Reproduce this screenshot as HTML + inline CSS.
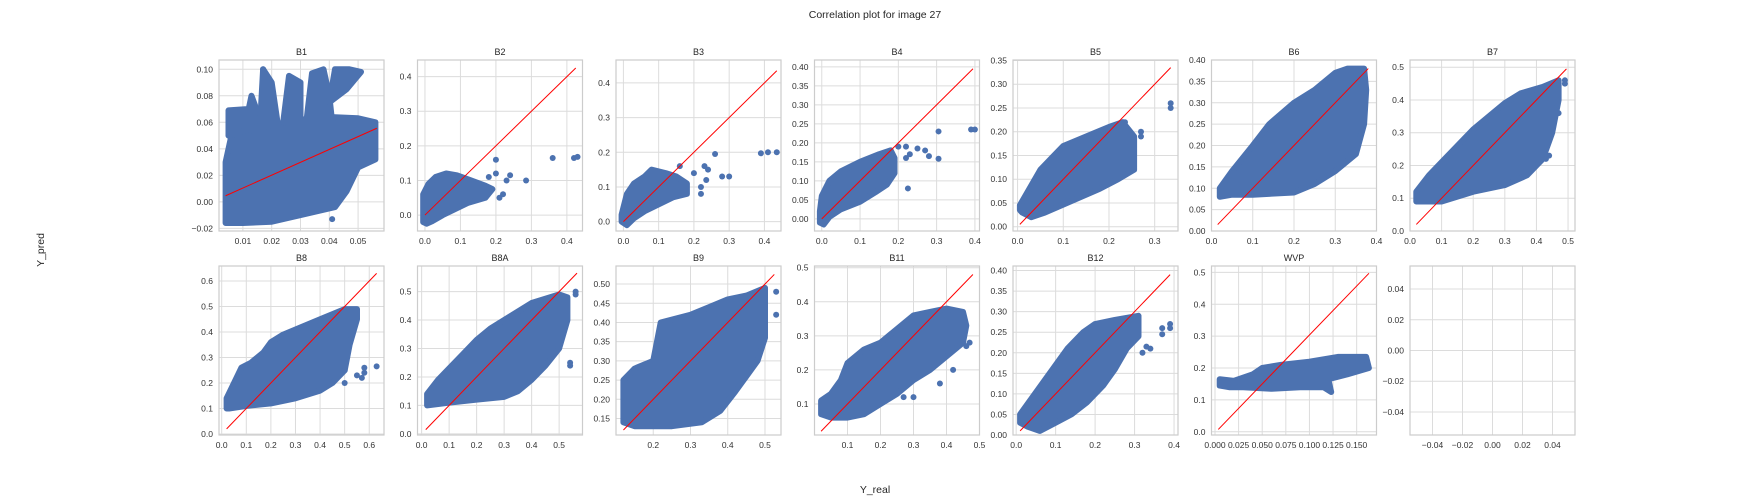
<!DOCTYPE html>
<html><head><meta charset="utf-8"><style>
html,body{margin:0;padding:0;background:#fff;}
svg{display:block;font-family:"Liberation Sans","DejaVu Sans",sans-serif;}
</style></head><body>
<svg id="fig" width="1750" height="500" viewBox="0 0 1750 500" xmlns="http://www.w3.org/2000/svg">
<rect width="1750" height="500" fill="#fff"/>
<text x="875" y="18" text-anchor="middle" font-size="10.5" fill="#262626">Correlation plot for image 27</text>
<text x="0" y="0" transform="translate(44,250) rotate(-90)" text-anchor="middle" font-size="10.5" fill="#262626">Y_pred</text>
<text x="875" y="493" text-anchor="middle" font-size="10.5" fill="#262626">Y_real</text>
</svg>
<script>
const panelNames = ["B1","B2","B3","B4","B5","B6","B7","B8","B8A","B9","B11","B12","WVP",""];
const xLims = [[0.0017,0.059],[-0.021,0.444],[-0.021,0.447],[-0.019,0.412],[-0.01,0.351],[0,0.4],[0,0.522],
               [-0.011,0.66],[-0.015,0.585],[0.1,0.543],[0,0.5],[-0.008,0.41],[-0.0037,0.171],[-0.055,0.055]];
const yLims = [[-0.022,0.107],[-0.046,0.448],[-0.027,0.466],[-0.032,0.418],[-0.009,0.351],[0,0.4],[0,0.522],
               [-0.004,0.659],[-0.004,0.59],[0.107,0.547],[0.009,0.505],[0,0.411],[-0.01,0.52],[-0.055,0.055]];
const xTicks = [[0.01,0.02,0.03,0.04,0.05],[0,0.1,0.2,0.3,0.4],[0,0.1,0.2,0.3,0.4],[0,0.1,0.2,0.3,0.4],[0,0.1,0.2,0.3],[0,0.1,0.2,0.3,0.4],[0,0.1,0.2,0.3,0.4,0.5],
                [0,0.1,0.2,0.3,0.4,0.5,0.6],[0,0.1,0.2,0.3,0.4,0.5],[0.2,0.3,0.4,0.5],[0.1,0.2,0.3,0.4,0.5],[0,0.1,0.2,0.3,0.4],[0,0.025,0.05,0.075,0.1,0.125,0.15],[-0.04,-0.02,0,0.02,0.04]];
const xTickDigits = [2,1,1,1,1,1,1,1,1,1,1,1,3,2];
const yTicks = [[-0.02,0,0.02,0.04,0.06,0.08,0.1],[0,0.1,0.2,0.3,0.4],[0,0.1,0.2,0.3,0.4],[0,0.05,0.1,0.15,0.2,0.25,0.3,0.35,0.4],[0,0.05,0.1,0.15,0.2,0.25,0.3,0.35],[0,0.05,0.1,0.15,0.2,0.25,0.3,0.35,0.4],[0,0.1,0.2,0.3,0.4,0.5],
                [0,0.1,0.2,0.3,0.4,0.5,0.6],[0,0.1,0.2,0.3,0.4,0.5],[0.15,0.2,0.25,0.3,0.35,0.4,0.45,0.5],[0.1,0.2,0.3,0.4,0.5],[0,0.05,0.1,0.15,0.2,0.25,0.3,0.35,0.4],[0,0.1,0.2,0.3,0.4,0.5],[-0.04,-0.02,0,0.02,0.04]];
const yTickDigits = [2,1,1,2,2,2,1,1,1,2,1,2,1,2];
const lineX = [[0.004,0.0565],[0,0.425],[0,0.435],[0,0.395],[0.005,0.335],[0.015,0.38],[0.02,0.495],[0.02,0.63],[0.015,0.565],[0.12,0.525],[0.02,0.48],[0.01,0.39],[0.0035,0.163],null];
const lineY = [[0.0046,0.0555],[0,0.425],[0,0.435],[0,0.395],[0.005,0.335],[0.015,0.38],[0.02,0.495],[0.02,0.63],[0.015,0.565],[0.12,0.525],[0.02,0.48],[0.01,0.39],[0.0075,0.497],null];
const clouds = [
 [[[0.004,-0.016],[0.004,0.03],[0.006,0.05],[0.02,0.058],[0.03,0.062],[0.04,0.064],[0.05,0.063],[0.056,0.06],[0.056,0.032],[0.05,0.026],[0.046,0.008],[0.042,-0.004],[0.03,-0.01],[0.02,-0.015],[0.01,-0.016]],
  [[0.005,0.05],[0.005,0.069],[0.012,0.07],[0.013,0.08],[0.015,0.068],[0.02,0.06]],
  [[0.016,0.06],[0.017,0.1],[0.02,0.09],[0.022,0.06]],
  [[0.024,0.06],[0.026,0.095],[0.03,0.09],[0.03,0.06]],
  [[0.032,0.06],[0.034,0.097],[0.038,0.1],[0.04,0.08],[0.041,0.06]],
  [[0.04,0.075],[0.042,0.1],[0.047,0.1],[0.051,0.098],[0.046,0.085]]],
 [[[-0.005,-0.02],[-0.005,0.06],[0.01,0.09],[0.03,0.11],[0.06,0.12],[0.09,0.115],[0.13,0.1],[0.17,0.085],[0.19,0.075],[0.17,0.05],[0.12,0.035],[0.08,0.015],[0.05,0.0],[0.02,-0.018],[0.005,-0.025]]],
 [[[-0.005,0.0],[-0.005,0.02],[0.01,0.08],[0.03,0.11],[0.06,0.13],[0.08,0.15],[0.12,0.14],[0.15,0.13],[0.18,0.11],[0.18,0.08],[0.14,0.07],[0.1,0.05],[0.06,0.03],[0.03,0.01],[0.01,-0.01]]],
 [[[-0.005,-0.01],[-0.005,0.02],[0.0,0.06],[0.02,0.1],[0.05,0.125],[0.1,0.15],[0.15,0.17],[0.18,0.18],[0.19,0.16],[0.19,0.12],[0.17,0.09],[0.14,0.07],[0.1,0.045],[0.05,0.025],[0.02,0.005],[0.005,-0.015]]],
 [[[0.005,0.035],[0.005,0.045],[0.02,0.07],[0.05,0.12],[0.08,0.15],[0.1,0.17],[0.15,0.19],[0.2,0.21],[0.23,0.22],[0.255,0.19],[0.255,0.12],[0.22,0.1],[0.18,0.08],[0.12,0.055],[0.06,0.03],[0.03,0.02],[0.01,0.03]]],
 [[[0.02,0.08],[0.02,0.1],[0.05,0.14],[0.1,0.2],[0.14,0.25],[0.2,0.3],[0.25,0.33],[0.3,0.37],[0.33,0.38],[0.37,0.38],[0.375,0.33],[0.37,0.25],[0.35,0.18],[0.3,0.14],[0.25,0.11],[0.2,0.09],[0.1,0.085],[0.05,0.085]]],
 [[[0.02,0.09],[0.02,0.12],[0.06,0.17],[0.1,0.21],[0.15,0.26],[0.2,0.31],[0.25,0.35],[0.3,0.39],[0.35,0.42],[0.42,0.44],[0.47,0.46],[0.47,0.4],[0.45,0.3],[0.42,0.22],[0.37,0.17],[0.3,0.14],[0.2,0.12],[0.1,0.09],[0.03,0.09]]],
 [[[0.02,0.1],[0.02,0.14],[0.05,0.2],[0.08,0.26],[0.12,0.28],[0.17,0.32],[0.2,0.36],[0.25,0.39],[0.3,0.41],[0.4,0.45],[0.5,0.49],[0.55,0.49],[0.55,0.45],[0.52,0.35],[0.5,0.25],[0.45,0.2],[0.4,0.17],[0.3,0.14],[0.2,0.12],[0.1,0.11],[0.03,0.1]]],
 [[[0.02,0.1],[0.02,0.14],[0.06,0.19],[0.1,0.23],[0.15,0.28],[0.2,0.33],[0.25,0.37],[0.3,0.4],[0.4,0.46],[0.5,0.49],[0.53,0.48],[0.53,0.4],[0.5,0.3],[0.45,0.24],[0.4,0.19],[0.35,0.15],[0.3,0.13],[0.2,0.12],[0.1,0.11]]],
 [[[0.12,0.14],[0.12,0.25],[0.15,0.28],[0.2,0.3],[0.22,0.4],[0.3,0.42],[0.35,0.44],[0.4,0.46],[0.45,0.47],[0.5,0.49],[0.5,0.36],[0.48,0.3],[0.45,0.26],[0.42,0.22],[0.38,0.17],[0.33,0.14],[0.25,0.13],[0.15,0.13]]],
 [[[0.02,0.07],[0.02,0.11],[0.05,0.13],[0.08,0.17],[0.1,0.22],[0.15,0.26],[0.2,0.28],[0.25,0.32],[0.3,0.36],[0.35,0.37],[0.4,0.38],[0.45,0.37],[0.46,0.33],[0.45,0.28],[0.4,0.24],[0.35,0.2],[0.3,0.17],[0.25,0.13],[0.2,0.1],[0.15,0.07],[0.1,0.06],[0.05,0.06]]],
 [[[0.01,0.03],[0.01,0.05],[0.04,0.09],[0.07,0.13],[0.1,0.17],[0.13,0.21],[0.17,0.25],[0.2,0.27],[0.25,0.28],[0.31,0.29],[0.31,0.24],[0.28,0.21],[0.25,0.16],[0.22,0.12],[0.18,0.08],[0.14,0.05],[0.1,0.03],[0.06,0.01],[0.03,0.02]]],
 [[[0.005,0.145],[0.005,0.165],[0.02,0.16],[0.04,0.18],[0.05,0.2],[0.07,0.21],[0.1,0.22],[0.13,0.235],[0.16,0.235],[0.163,0.2],[0.14,0.18],[0.12,0.165],[0.123,0.125],[0.115,0.14],[0.09,0.14],[0.06,0.135],[0.03,0.14],[0.015,0.14]]],
 []
];
const outliers = [
 [[0.041,-0.013],[0.017,0.1]],
 [[0.2,0.16],[0.22,0.06],[0.21,0.05],[0.23,0.1],[0.24,0.115],[0.285,0.1],[0.36,0.165],[0.42,0.165],[0.43,0.168],[0.18,0.11],[0.2,0.12]],
 [[0.16,0.16],[0.2,0.14],[0.22,0.08],[0.23,0.16],[0.24,0.15],[0.26,0.195],[0.28,0.13],[0.3,0.13],[0.39,0.197],[0.41,0.2],[0.435,0.2],[0.22,0.1],[0.235,0.12]],
 [[0.2,0.19],[0.22,0.16],[0.225,0.08],[0.23,0.17],[0.25,0.185],[0.27,0.18],[0.28,0.165],[0.305,0.23],[0.305,0.158],[0.39,0.235],[0.4,0.235],[0.22,0.19]],
 [[0.27,0.2],[0.27,0.19],[0.335,0.25],[0.335,0.26],[0.235,0.22]],
 [],
 [[0.49,0.46],[0.49,0.45],[0.47,0.36],[0.44,0.23],[0.43,0.22]],
 [[0.63,0.265],[0.58,0.26],[0.57,0.22],[0.5,0.25],[0.5,0.2],[0.55,0.23],[0.58,0.24]],
 [[0.56,0.49],[0.56,0.5],[0.54,0.24],[0.54,0.25]],
 [[0.53,0.48],[0.53,0.42],[0.5,0.365]],
 [[0.47,0.28],[0.46,0.27],[0.42,0.2],[0.38,0.16],[0.27,0.12],[0.3,0.12]],
 [[0.37,0.26],[0.37,0.245],[0.39,0.26],[0.39,0.27],[0.34,0.21],[0.33,0.215],[0.32,0.2]],
 [],
 []
];

const NS = "http://www.w3.org/2000/svg";
const fig = document.getElementById("fig");
const colLeft = [219,417.5,616,814.5,1013,1211.5,1410];
const rowTop = [60,266], rowBot = [231,435], PW = 165;
function mk(tag, attrs, parent){const e=document.createElementNS(NS,tag);for(const k in attrs)e.setAttribute(k,attrs[k]);parent.appendChild(e);return e;}
function fmt(v,d){let s=v.toFixed(d);if(v<0)s="\u2212"+s.slice(1);return s;}

panelNames.forEach((name,i)=>{
  const r=Math.floor(i/7), c=i%7;
  const L=colLeft[c], T=rowTop[r], B=rowBot[r], R=L+PW;
  const xs=v=>L+(v-xLims[i][0])/(xLims[i][1]-xLims[i][0])*PW;
  const ys=v=>B-(v-yLims[i][0])/(yLims[i][1]-yLims[i][0])*(B-T);
  const g=mk("g",{},fig);
  
  
  const cid="clip"+i;
  const cp=mk("clipPath",{id:cid},g); mk("rect",{x:L,y:T,width:PW,height:B-T},cp);
  xTicks[i].forEach(v=>{
    const x=xs(v);
    const gl=mk("line",{x1:x,x2:x,y1:T,y2:B,stroke:"#dcdcdc","stroke-width":1},g);
    
    
    const t=mk("text",{x:x,y:B+13,"text-anchor":"middle","font-size":"8.5",fill:"#333"},g);
    t.textContent=fmt(v,xTickDigits[i]);
    
    
  });
  yTicks[i].forEach(v=>{
    const y=ys(v);
    const gl=mk("line",{x1:L,x2:R,y1:y,y2:y,stroke:"#dcdcdc","stroke-width":1},g);
    
    
    const t=mk("text",{x:L-6,y:y+3,"text-anchor":"end","font-size":"8.5",fill:"#333"},g);
    t.textContent=fmt(v,yTickDigits[i]);
    
    
  });
  const data=mk("g",{"clip-path":"url(#"+cid+")"},g);
  clouds[i].forEach(poly=>{
    const p=mk("polygon",{points:poly.map(q=>xs(q[0]).toFixed(1)+","+ys(q[1]).toFixed(1)).join(" "),fill:"#4c72b0",stroke:"#4c72b0","stroke-width":6,"stroke-linejoin":"round"},data);
    
    
  });
  outliers[i].forEach(q=>{
    const ci=mk("circle",{cx:xs(q[0]),cy:ys(q[1]),r:3,fill:"#4c72b0"},data);
    
    
  });
  if(lineX[i]){
    const ln=mk("line",{x1:xs(lineX[i][0]),y1:ys(lineY[i][0]),x2:xs(lineX[i][1]),y2:ys(lineY[i][1]),stroke:"#ff0000","stroke-width":1},data);
    
    
  }
  const fr=mk("rect",{x:L,y:T,width:PW,height:B-T,fill:"none",stroke:"#cccccc","stroke-width":1.2},g);
  
  
  if(name){
    const tt=mk("text",{x:L+PW/2,y:T-5,"text-anchor":"middle","font-size":"9",fill:"#262626"},g);
    tt.textContent=name;
    
    
  }
});
</script>
</body></html>
